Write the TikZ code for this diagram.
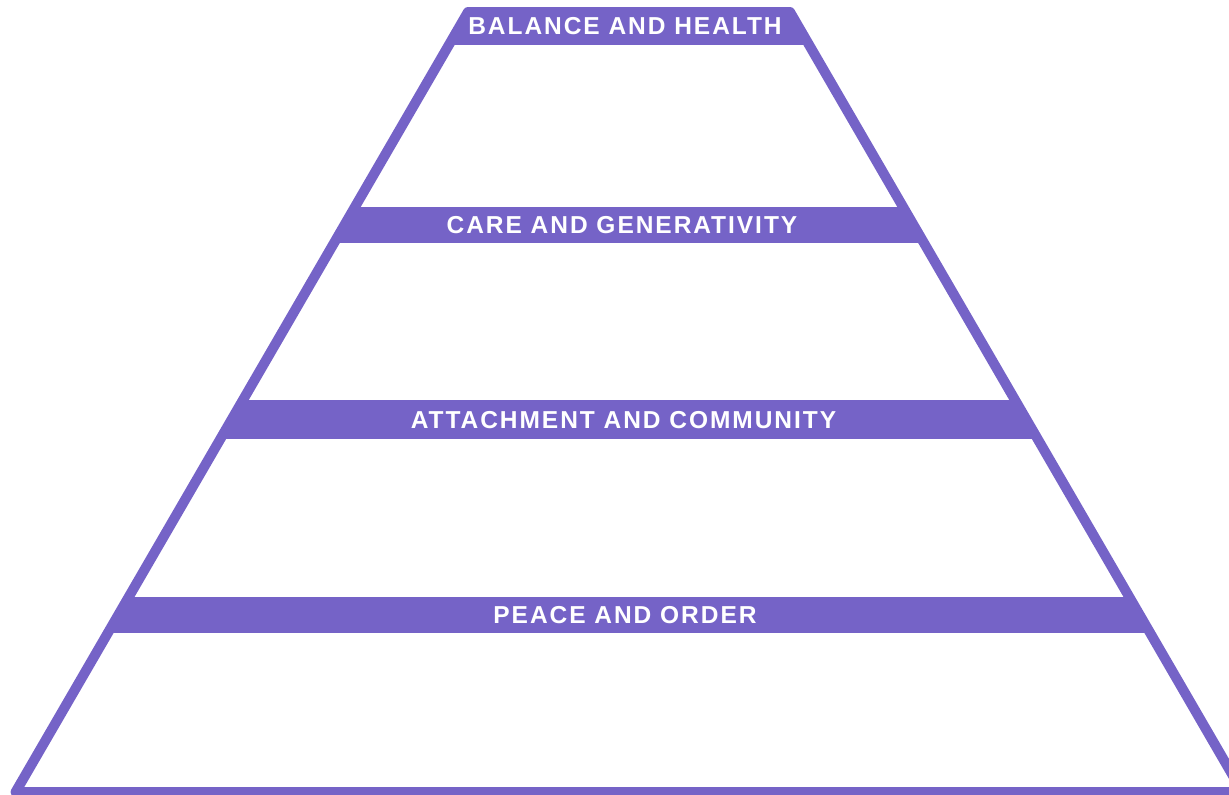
\documentclass[tikz,border=0pt]{standalone}
\usepackage{fontspec}
\setmainfont{Liberation Sans}
\usepackage{xcolor}
\definecolor{pyramid}{RGB}{117,99,199}

\begin{document}
\begin{tikzpicture}[x=1pt, y=-1pt, every node/.style={font=\bfseries\fontsize{24.5}{28}\selectfont\addfontfeature{LetterSpace=8}, text=white, inner sep=0pt}]
\useasboundingbox (0,0) rectangle (1229,795);
\coordinate (bl) at (15.6,792);
\coordinate (br) at (1242.4,792);
\coordinate (tr) at (790,12);
\coordinate (tl) at (468,12);

\begin{scope}
\clip (bl) -- (br) -- (tr) -- (tl) -- cycle;
\fill[pyramid] (0,7) rectangle (1229,45);
\fill[pyramid] (0,207) rectangle (1229,243);
\fill[pyramid] (0,400) rectangle (1229,439);
\fill[pyramid] (0,597) rectangle (1229,633);
\end{scope}
\draw[pyramid, line width=10pt, line join=round] (bl) -- (br) -- (tr) -- (tl) -- cycle;

\node (balance) at (625,26) {BALANCE AND HEALTH};
\node (care) at (622,225) {CARE AND GENERATIVITY};
\node (attach) at (623.5,420) {ATTACHMENT AND COMMUNITY};
\node (peace) at (625,615) {PEACE AND ORDER};
\end{tikzpicture}
\end{document}
